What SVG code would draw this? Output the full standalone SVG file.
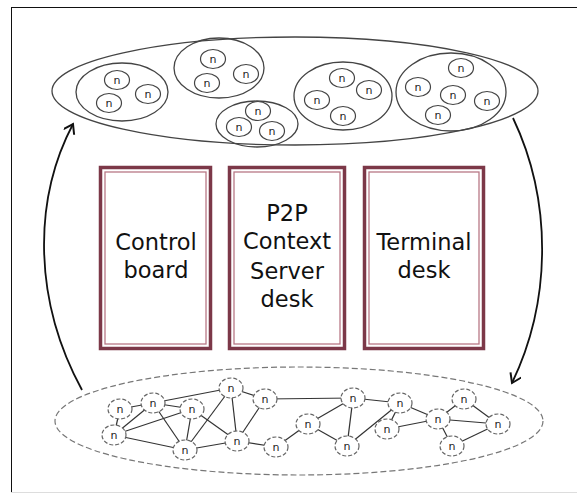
<svg xmlns="http://www.w3.org/2000/svg" width="577" height="493" viewBox="0 0 577 493">
<defs>
<style>
.cl{fill:none;stroke:#444;stroke-width:1.3}
.tn{fill:#fff;stroke:#444;stroke-width:1.2}
.nt{font-family:"DejaVu Sans",sans-serif;font-size:11px;fill:#222;text-anchor:middle}
.dn{fill:#fff;stroke:#666;stroke-width:1.2;stroke-dasharray:4 2}
.ed{stroke:#333;stroke-width:1.2}
.bo{fill:#fff;stroke:#7c3848;stroke-width:3.5}
.bi{fill:none;stroke:#b87886;stroke-width:1.3}
.bt{font-family:"DejaVu Sans",sans-serif;font-size:22.5px;fill:#111;text-anchor:middle}
.arr{fill:none;stroke:#111;stroke-width:1.8}
</style>
<marker id="ah" markerWidth="14" markerHeight="14" refX="10" refY="6" orient="auto" markerUnits="userSpaceOnUse">
<path d="M1,0 L10,6 L1,12" fill="none" stroke="#111" stroke-width="2"/>
</marker>
</defs>
<rect width="577" height="493" fill="#fff"/>
<g id="frame">
<line x1="11" y1="7.5" x2="577" y2="7.5" stroke="#111" stroke-width="1"/>
<line x1="11.5" y1="7" x2="11.5" y2="493" stroke="#111" stroke-width="1"/>
<line x1="11" y1="492.5" x2="577" y2="492.5" stroke="#ddd" stroke-width="1"/>
</g>
<g id="context-layer">
<ellipse class="cl" cx="295" cy="91" rx="243" ry="54"/>
<g id="cluster1">
<ellipse class="cl" cx="122" cy="92" rx="46" ry="29"/>
<ellipse class="tn" cx="117" cy="80" rx="12.5" ry="9.5"/><text class="nt" x="117" y="84">n</text>
<ellipse class="tn" cx="148" cy="94" rx="12.5" ry="9.5"/><text class="nt" x="148" y="98">n</text>
<ellipse class="tn" cx="109" cy="103" rx="12.5" ry="9.5"/><text class="nt" x="109" y="107">n</text>
</g>
<g id="cluster2">
<ellipse class="cl" cx="219" cy="68" rx="45" ry="30"/>
<ellipse class="tn" cx="213" cy="59" rx="12.5" ry="9.5"/><text class="nt" x="213" y="63">n</text>
<ellipse class="tn" cx="246" cy="74" rx="12.5" ry="9.5"/><text class="nt" x="246" y="78">n</text>
<ellipse class="tn" cx="207" cy="83" rx="12.5" ry="9.5"/><text class="nt" x="207" y="87">n</text>
</g>
<g id="cluster3">
<ellipse class="cl" cx="257" cy="124" rx="41" ry="23"/>
<ellipse class="tn" cx="258" cy="111" rx="12.5" ry="9.5"/><text class="nt" x="258" y="115">n</text>
<ellipse class="tn" cx="239" cy="127" rx="12.5" ry="9.5"/><text class="nt" x="239" y="131">n</text>
<ellipse class="tn" cx="272" cy="131" rx="12.5" ry="9.5"/><text class="nt" x="272" y="135">n</text>
</g>
<g id="cluster4">
<ellipse class="cl" cx="343" cy="96" rx="49" ry="34"/>
<ellipse class="tn" cx="342" cy="78" rx="12.5" ry="9.5"/><text class="nt" x="342" y="82">n</text>
<ellipse class="tn" cx="369" cy="90" rx="12.5" ry="9.5"/><text class="nt" x="369" y="94">n</text>
<ellipse class="tn" cx="317" cy="100" rx="12.5" ry="9.5"/><text class="nt" x="317" y="104">n</text>
<ellipse class="tn" cx="343" cy="116" rx="12.5" ry="9.5"/><text class="nt" x="343" y="120">n</text>
</g>
<g id="cluster5">
<ellipse class="cl" cx="451" cy="92" rx="55" ry="39"/>
<ellipse class="tn" cx="461" cy="68" rx="12.5" ry="9.5"/><text class="nt" x="461" y="72">n</text>
<ellipse class="tn" cx="418" cy="87" rx="12.5" ry="9.5"/><text class="nt" x="418" y="91">n</text>
<ellipse class="tn" cx="453" cy="95" rx="12.5" ry="9.5"/><text class="nt" x="453" y="99">n</text>
<ellipse class="tn" cx="487" cy="101" rx="12.5" ry="9.5"/><text class="nt" x="487" y="105">n</text>
<ellipse class="tn" cx="438" cy="115" rx="12.5" ry="9.5"/><text class="nt" x="438" y="119">n</text>
</g>
</g>
<g id="box-control">
<rect class="bo" x="100.5" y="167.5" width="110" height="181"/>
<rect class="bi" x="105" y="172" width="101" height="172"/>
<text class="bt" x="156" y="250">Control</text>
<text class="bt" x="156" y="278">board</text>
</g>
<g id="box-p2p">
<rect class="bo" x="229.5" y="167.5" width="115" height="181"/>
<rect class="bi" x="234" y="172" width="106" height="172"/>
<text class="bt" x="287" y="221">P2P</text>
<text class="bt" x="287" y="249">Context</text>
<text class="bt" x="287" y="279">Server</text>
<text class="bt" x="287" y="307">desk</text>
</g>
<g id="box-terminal">
<rect class="bo" x="364.5" y="167.5" width="119" height="181"/>
<rect class="bi" x="369" y="172" width="110" height="172"/>
<text class="bt" x="424" y="250">Terminal</text>
<text class="bt" x="424" y="278">desk</text>
</g>
<g id="connectors">
<path class="arr" d="M82,390 C33,300 33,200 73,124" marker-end="url(#ah)"/>
<path class="arr" d="M513,118 C552,200 552,300 512,383" marker-end="url(#ah)"/>
</g>
<g id="p2p-layer">
<ellipse cx="299" cy="421" rx="244" ry="54" fill="none" stroke="#777" stroke-width="1.2" stroke-dasharray="6 3"/>
<g id="p2p-edges">
<line class="ed" x1="120" y1="409" x2="153" y2="403"/>
<line class="ed" x1="153" y1="403" x2="192" y2="409"/>
<line class="ed" x1="153" y1="403" x2="231" y2="388"/>
<line class="ed" x1="120" y1="409" x2="114" y2="435"/>
<line class="ed" x1="114" y1="435" x2="153" y2="403"/>
<line class="ed" x1="114" y1="435" x2="192" y2="409"/>
<line class="ed" x1="114" y1="435" x2="185" y2="450"/>
<line class="ed" x1="153" y1="403" x2="185" y2="450"/>
<line class="ed" x1="192" y1="409" x2="185" y2="450"/>
<line class="ed" x1="192" y1="409" x2="237" y2="441"/>
<line class="ed" x1="231" y1="388" x2="185" y2="450"/>
<line class="ed" x1="231" y1="388" x2="237" y2="441"/>
<line class="ed" x1="231" y1="388" x2="265" y2="399"/>
<line class="ed" x1="265" y1="399" x2="237" y2="441"/>
<line class="ed" x1="265" y1="399" x2="353" y2="398"/>
<line class="ed" x1="185" y1="450" x2="237" y2="441"/>
<line class="ed" x1="237" y1="441" x2="276" y2="447"/>
<line class="ed" x1="276" y1="447" x2="308" y2="424"/>
<line class="ed" x1="308" y1="424" x2="353" y2="398"/>
<line class="ed" x1="308" y1="424" x2="347" y2="446"/>
<line class="ed" x1="353" y1="398" x2="347" y2="446"/>
<line class="ed" x1="353" y1="398" x2="400" y2="403"/>
<line class="ed" x1="400" y1="403" x2="347" y2="446"/>
<line class="ed" x1="400" y1="403" x2="387" y2="429"/>
<line class="ed" x1="400" y1="403" x2="438" y2="419"/>
<line class="ed" x1="387" y1="429" x2="438" y2="419"/>
<line class="ed" x1="438" y1="419" x2="464" y2="399"/>
<line class="ed" x1="438" y1="419" x2="498" y2="424"/>
<line class="ed" x1="438" y1="419" x2="452" y2="446"/>
<line class="ed" x1="464" y1="399" x2="498" y2="424"/>
<line class="ed" x1="452" y1="446" x2="498" y2="424"/>
</g>
<g id="p2p-nodes">
<g><ellipse class="dn" cx="120" cy="409" rx="12" ry="10"/><text class="nt" x="120" y="413">n</text></g>
<g><ellipse class="dn" cx="153" cy="403" rx="12" ry="10"/><text class="nt" x="153" y="407">n</text></g>
<g><ellipse class="dn" cx="192" cy="409" rx="12" ry="10"/><text class="nt" x="192" y="413">n</text></g>
<g><ellipse class="dn" cx="114" cy="435" rx="12" ry="10"/><text class="nt" x="114" y="439">n</text></g>
<g><ellipse class="dn" cx="185" cy="450" rx="12" ry="10"/><text class="nt" x="185" y="454">n</text></g>
<g><ellipse class="dn" cx="231" cy="388" rx="12" ry="10"/><text class="nt" x="231" y="392">n</text></g>
<g><ellipse class="dn" cx="265" cy="399" rx="12" ry="10"/><text class="nt" x="265" y="403">n</text></g>
<g><ellipse class="dn" cx="237" cy="441" rx="12" ry="10"/><text class="nt" x="237" y="445">n</text></g>
<g><ellipse class="dn" cx="276" cy="447" rx="12" ry="10"/><text class="nt" x="276" y="451">n</text></g>
<g><ellipse class="dn" cx="308" cy="424" rx="12" ry="10"/><text class="nt" x="308" y="428">n</text></g>
<g><ellipse class="dn" cx="353" cy="398" rx="12" ry="10"/><text class="nt" x="353" y="402">n</text></g>
<g><ellipse class="dn" cx="400" cy="403" rx="12" ry="10"/><text class="nt" x="400" y="407">n</text></g>
<g><ellipse class="dn" cx="347" cy="446" rx="12" ry="10"/><text class="nt" x="347" y="450">n</text></g>
<g><ellipse class="dn" cx="387" cy="429" rx="12" ry="10"/><text class="nt" x="387" y="433">n</text></g>
<g><ellipse class="dn" cx="438" cy="419" rx="12" ry="10"/><text class="nt" x="438" y="423">n</text></g>
<g><ellipse class="dn" cx="464" cy="399" rx="12" ry="10"/><text class="nt" x="464" y="403">n</text></g>
<g><ellipse class="dn" cx="498" cy="424" rx="12" ry="10"/><text class="nt" x="498" y="428">n</text></g>
<g><ellipse class="dn" cx="452" cy="446" rx="12" ry="10"/><text class="nt" x="452" y="450">n</text></g>
</g>
</g>
</svg>
